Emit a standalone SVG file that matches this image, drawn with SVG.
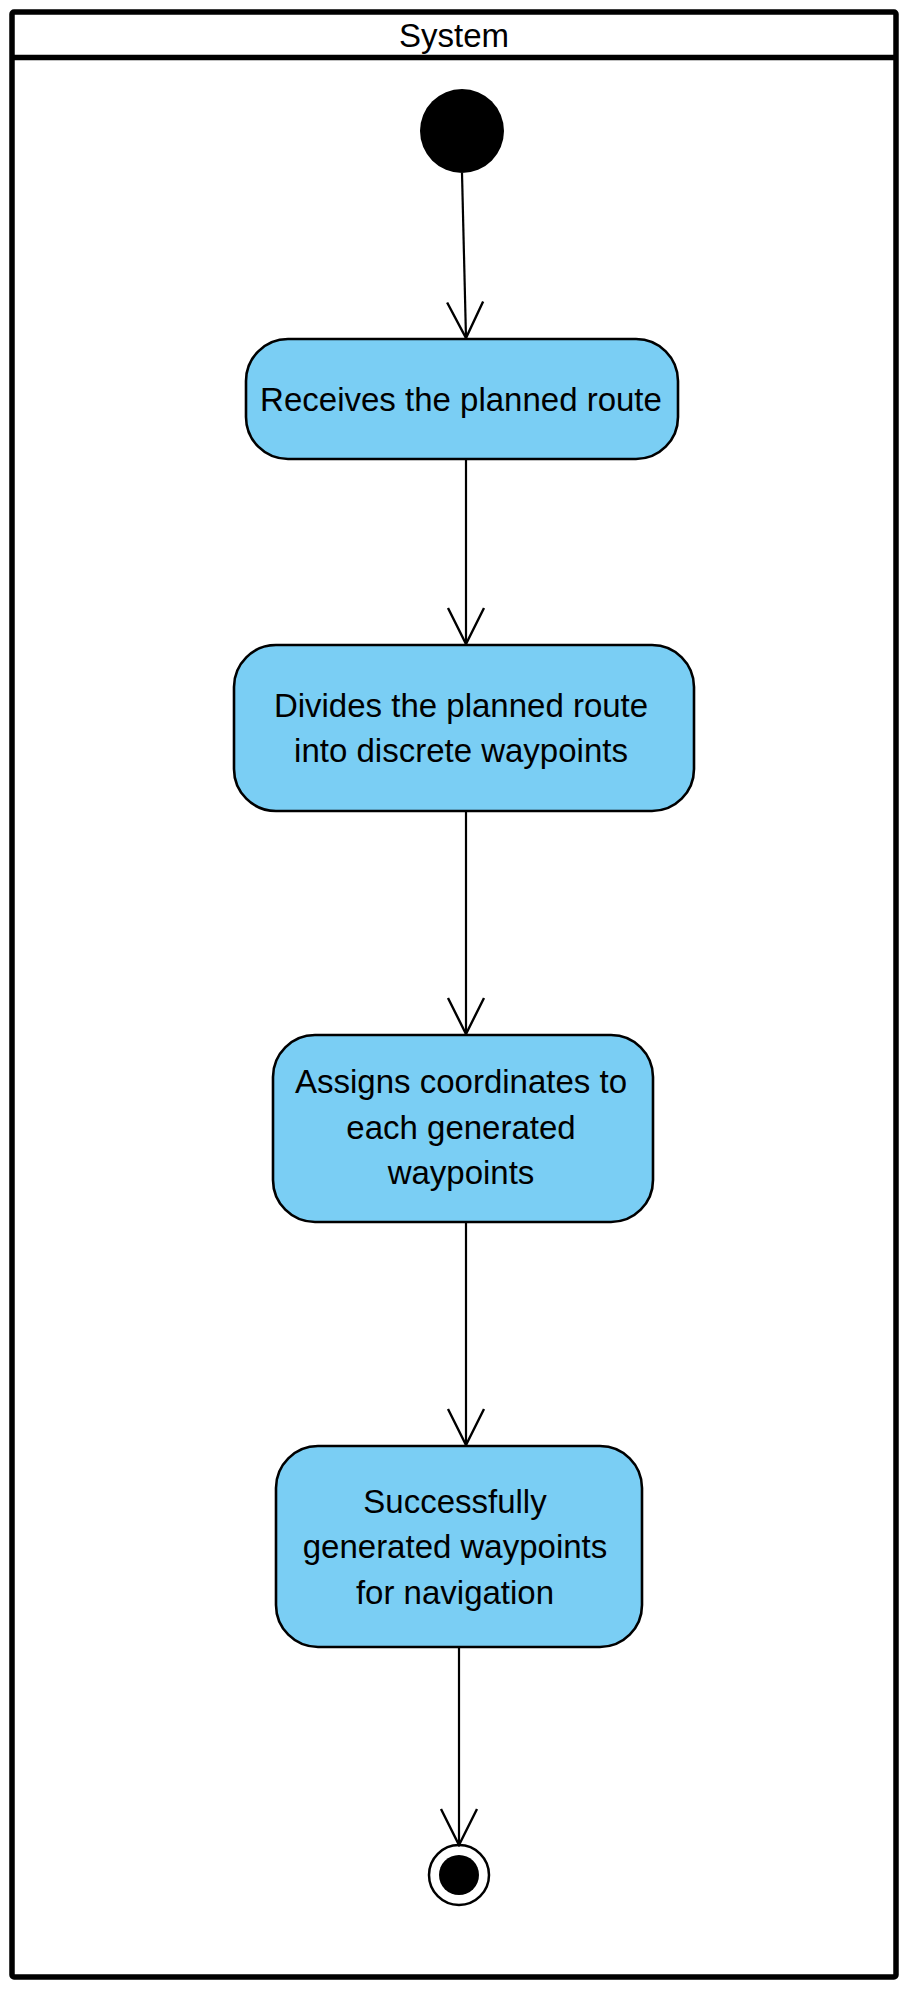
<svg xmlns="http://www.w3.org/2000/svg" width="915" height="1995" viewBox="0 0 915 1995">
<defs>
<style>
.frame{fill:none;stroke:#000;stroke-width:5.5}
.node{fill:#7ACEF4;stroke:#000;stroke-width:2.6}
.lbl{font-family:"Liberation Sans",Arial,sans-serif;font-size:33px;fill:#000;text-anchor:middle}
.edge{fill:none;stroke:#000;stroke-width:2.2}
</style>
<marker id="open" viewBox="0 0 40 40" refX="38" refY="20" markerWidth="40" markerHeight="40" markerUnits="userSpaceOnUse" orient="auto">
<path d="M2,2 L38,20 L2,38" fill="none" stroke="#000" stroke-width="2.4"/>
</marker>
</defs>
<rect width="915" height="1995" fill="#fff"/>
<g id="swimlane">
<rect class="frame" x="12" y="12" width="884" height="1965" rx="2"/>
<line x1="12" y1="57.5" x2="896" y2="57.5" stroke="#000" stroke-width="5.5"/>
<text class="lbl" x="454" y="47">System</text>
</g>
<g id="start">
<circle cx="462" cy="131" r="42" fill="#000"/>
</g>
<g id="n1">
<rect class="node" x="246" y="339" width="432" height="120" rx="42" ry="42"/>
<text class="lbl" x="461" y="411">Receives the planned route</text>
</g>
<g id="n2">
<rect class="node" x="234" y="645" width="460" height="166" rx="42" ry="42"/>
<text class="lbl" x="461" y="717">Divides the planned route</text>
<text class="lbl" x="461" y="762">into discrete waypoints</text>
</g>
<g id="n3">
<rect class="node" x="273" y="1035" width="380" height="187" rx="42" ry="42"/>
<text class="lbl" x="461" y="1093">Assigns coordinates to</text>
<text class="lbl" x="461" y="1139">each generated</text>
<text class="lbl" x="461" y="1184">waypoints</text>
</g>
<g id="n4">
<rect class="node" x="276" y="1446" width="366" height="201" rx="42" ry="42"/>
<text class="lbl" x="455" y="1513">Successfully</text>
<text class="lbl" x="455" y="1558">generated waypoints</text>
<text class="lbl" x="455" y="1604">for navigation</text>
</g>
<g id="end">
<circle cx="459" cy="1875" r="30" fill="#fff" stroke="#000" stroke-width="2.5"/>
<circle cx="459" cy="1875" r="20" fill="#000"/>
</g>
<g id="connectors">
<line class="edge" x1="462" y1="173" x2="466" y2="338" marker-end="url(#open)"/>
<line class="edge" x1="466" y1="459" x2="466" y2="644" marker-end="url(#open)"/>
<line class="edge" x1="466" y1="811" x2="466" y2="1034" marker-end="url(#open)"/>
<line class="edge" x1="466" y1="1222" x2="466" y2="1445" marker-end="url(#open)"/>
<line class="edge" x1="459" y1="1647" x2="459" y2="1845" marker-end="url(#open)"/>
</g>
</svg>
